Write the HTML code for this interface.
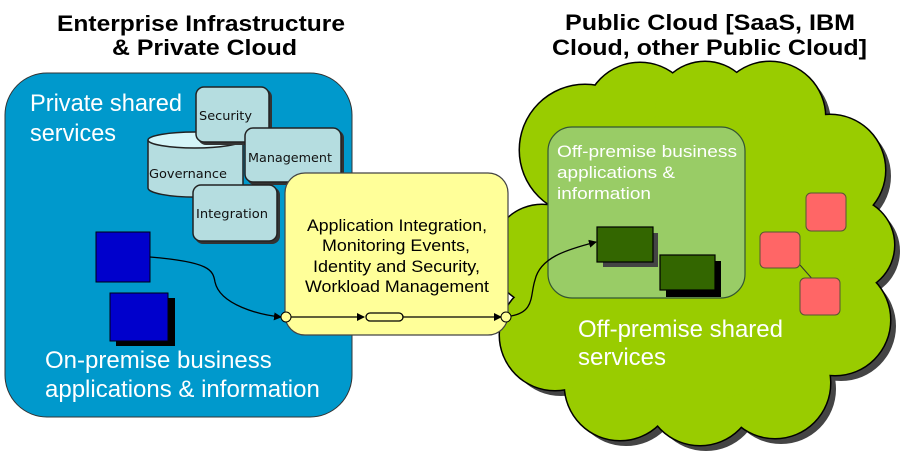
<!DOCTYPE html>
<html><head><style>
body{margin:0;background:#fff;width:904px;height:456px;overflow:hidden;font-family:"Liberation Sans",Arial,sans-serif}
</style></head><body>
<svg width="904" height="456" viewBox="0 0 904 456" xmlns="http://www.w3.org/2000/svg" font-family="Liberation Sans, Arial, sans-serif">
<defs>
<g id="cl">
<circle cx="585" cy="150" r="65"/><circle cx="640" cy="118" r="55"/><circle cx="705" cy="112" r="50"/><circle cx="770" cy="117" r="55"/><circle cx="830" cy="170" r="55"/><circle cx="847" cy="245" r="47"/><circle cx="835" cy="320" r="55"/><circle cx="775" cy="383" r="55"/><circle cx="700" cy="390" r="55"/><circle cx="620" cy="385" r="55"/><circle cx="555" cy="335" r="55"/><circle cx="542" cy="255" r="50"/><circle cx="700" cy="255" r="145"/>
</g>
<marker id="ar" markerWidth="8" markerHeight="8" refX="7" refY="4" orient="auto" markerUnits="userSpaceOnUse"><path d="M0,0 L8,4 L0,8z" fill="#000"/></marker>
</defs>
<g font-weight="bold" font-size="22" fill="#000">
<text x="57" y="31" textLength="288" lengthAdjust="spacingAndGlyphs">Enterprise Infrastructure</text>
<text x="112" y="55" textLength="185" lengthAdjust="spacingAndGlyphs">&amp; Private Cloud</text>
<text x="565" y="30" textLength="290" lengthAdjust="spacingAndGlyphs">Public Cloud [SaaS, IBM</text>
<text x="552" y="55" textLength="315" lengthAdjust="spacingAndGlyphs">Cloud, other Public Cloud]</text>
</g>
<!-- blue box -->
<rect x="5" y="73" width="347" height="344" rx="42" fill="#0099cc" stroke="#333" stroke-width="1"/>
<text x="30" y="111" font-size="24" fill="#fff" textLength="152" lengthAdjust="spacingAndGlyphs">Private shared</text>
<text x="30" y="141" font-size="24" fill="#fff" textLength="86" lengthAdjust="spacingAndGlyphs">services</text>
<!-- governance cylinder -->
<path d="M148,140 L148,188 A47,9 0 0 0 243,188 L243,140" fill="#b5dde0" stroke="#222" stroke-width="1.5"/>
<ellipse cx="195" cy="140" rx="47" ry="8" fill="#d5f5f8" stroke="#222" stroke-width="1.5"/>
<g font-family="DejaVu Sans, sans-serif" font-size="12" fill="#111">
<text x="149" y="178" textLength="78" lengthAdjust="spacingAndGlyphs">Governance</text>
</g>
<rect x="198" y="89" width="74" height="56" rx="8" fill="#333"/>
<rect x="196" y="87" width="73" height="55" rx="8" fill="#b5dde0" stroke="#222" stroke-width="1.5"/>
<rect x="247" y="130" width="97" height="55" rx="8" fill="#333"/>
<rect x="245" y="128" width="96" height="54" rx="8" fill="#b5dde0" stroke="#222" stroke-width="1.5"/>
<rect x="195" y="187" width="85" height="57" rx="8" fill="#333"/>
<rect x="193" y="185" width="84" height="56" rx="8" fill="#b5dde0" stroke="#222" stroke-width="1.5"/>
<g font-family="DejaVu Sans, sans-serif" font-size="12" fill="#111">
<text x="199" y="120" textLength="53" lengthAdjust="spacingAndGlyphs">Security</text>
<text x="248" y="162" textLength="84" lengthAdjust="spacingAndGlyphs">Management</text>
<text x="196" y="218" textLength="72" lengthAdjust="spacingAndGlyphs">Integration</text>
</g>
<!-- blue squares -->
<rect x="96" y="232" width="54" height="50" fill="#0000cc" stroke="#001" stroke-width="1"/>
<rect x="116" y="298" width="59" height="48" fill="#000"/>
<rect x="110" y="293" width="58" height="48" fill="#0000cc" stroke="#001" stroke-width="1"/>
<text x="45" y="368" font-size="24" fill="#fff">On-premise business</text>
<text x="45" y="397" font-size="24" fill="#fff">applications &amp; information</text>
<!-- cloud -->
<g fill="#444" transform="translate(6,6)"><use href="#cl"/></g>
<g fill="#000" stroke="#000" stroke-width="3"><use href="#cl"/></g>
<g fill="#99cc00"><use href="#cl"/></g>
<!-- inner green -->
<rect x="548" y="127" width="197" height="171" rx="24" fill="#99cc66" stroke="#335533" stroke-width="1.2"/>
<g font-size="17" fill="#fff">
<text x="557" y="157" textLength="180" lengthAdjust="spacingAndGlyphs">Off-premise business</text>
<text x="557" y="178" textLength="118" lengthAdjust="spacingAndGlyphs">applications &amp;</text>
<text x="557" y="199" textLength="94" lengthAdjust="spacingAndGlyphs">information</text>
</g>
<rect x="603" y="233" width="55" height="34" fill="#444"/>
<rect x="597" y="227" width="56" height="35" fill="#336600" stroke="#000" stroke-width="1.2"/>
<rect x="666" y="261" width="55" height="36" fill="#000"/>
<rect x="660" y="255" width="55" height="35" fill="#336600" stroke="#000" stroke-width="1.2"/>
<!-- red squares -->
<line x1="800" y1="265" x2="815" y2="282" stroke="#333"/>
<rect x="760" y="232" width="40" height="36" rx="5" fill="#ff6666" stroke="#553" stroke-width="1"/>
<rect x="806" y="193" width="40" height="38" rx="5" fill="#ff6666" stroke="#553" stroke-width="1"/>
<rect x="800" y="278" width="40" height="37" rx="5" fill="#ff6666" stroke="#553" stroke-width="1"/>
<text x="578" y="337" font-size="24" fill="#fff">Off-premise shared</text>
<text x="578" y="365" font-size="24" fill="#fff">services</text>
<!-- yellow box -->
<rect x="285" y="173" width="223" height="162" rx="20" fill="#ffff99" stroke="#444" stroke-width="1.2"/>
<g font-size="17" fill="#000">
<text x="307" y="231" textLength="180" lengthAdjust="spacingAndGlyphs">Application Integration,</text>
<text x="322" y="251" textLength="148" lengthAdjust="spacingAndGlyphs">Monitoring Events,</text>
<text x="313" y="272" textLength="167" lengthAdjust="spacingAndGlyphs">Identity and Security,</text>
<text x="305" y="292" textLength="184" lengthAdjust="spacingAndGlyphs">Workload Management</text>
</g>
<!-- connectors -->
<path d="M150,257 C210,262 213,270 215,282 C220,305 260,315 281,317" fill="none" stroke="#000" stroke-width="1.3" marker-end="url(#ar)"/>
<line x1="291" y1="317" x2="364" y2="317" stroke="#000" stroke-width="1.3" marker-end="url(#ar)"/>
<rect x="366" y="313" width="37" height="8" rx="4" fill="#ffff99" stroke="#000" stroke-width="1.3"/>
<line x1="403" y1="317" x2="501" y2="317" stroke="#000" stroke-width="1.3" marker-end="url(#ar)"/>
<path d="M511,316 C535,312 530,295 535,280 C540,258 565,250 596,242" fill="none" stroke="#000" stroke-width="1.3" marker-end="url(#ar)"/>
<circle cx="286" cy="317" r="5" fill="#ffff99" stroke="#000" stroke-width="1"/>
<circle cx="506" cy="317" r="5" fill="#ffff99" stroke="#000" stroke-width="1"/>
</svg>
</body></html>
